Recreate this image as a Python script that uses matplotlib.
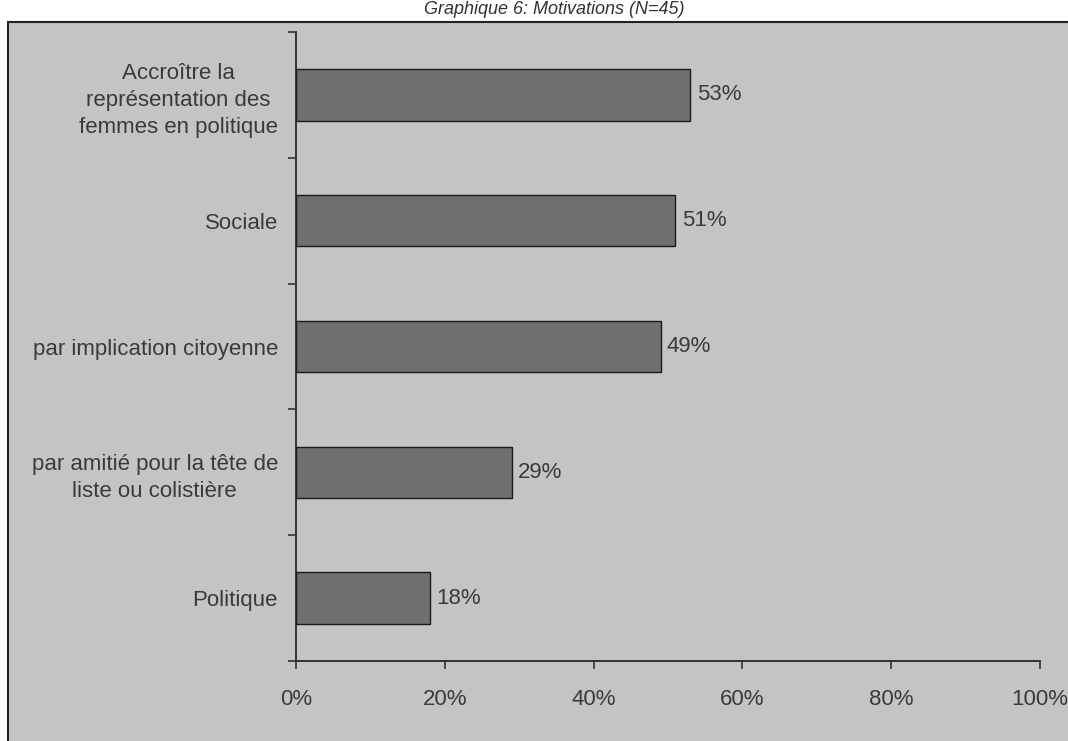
import matplotlib
matplotlib.use("Agg")
import matplotlib.pyplot as plt
from matplotlib.patches import Rectangle
import numpy as np

categories = [
    "Accroître la\nreprésentation des\nfemmes en politique",
    "Sociale",
    "par implication citoyenne",
    "par amitié pour la tête de\nliste ou colistière",
    "Politique",
]
values = [53, 51, 49, 29, 18]
xticks = [0, 20, 40, 60, 80, 100]
xtick_labels = ["0%", "20%", "40%", "60%", "80%", "100%"]
title = "Graphique 6: Motivations (N=45)"

W, H = 1068, 741
plt.rcParams["font.family"] = ["Liberation Sans", "DejaVu Sans"]
fig = plt.figure(figsize=(W / 100, H / 100), dpi=100)
fig.patch.set_facecolor("white")

bg = "#c4c4c4"
txt = "#3a3a3a"
fs = 16
# outer chart border
fig.patches.append(Rectangle((8 / W, -0.05), 1.2, 1 - 22 / H + 0.05,
                             transform=fig.transFigure, facecolor=bg,
                             edgecolor="#222222", linewidth=1.5, zorder=-5))

ax = fig.add_axes([296 / W, 1 - 661 / H, (1040 - 296) / W, (661 - 32) / H])
ax.set_facecolor("none")
ax.set_zorder(2)

n = len(categories)
ypos = np.arange(n)
ax.barh(ypos, values, height=0.41, color="#707070", edgecolor="#1a1a1a",
        linewidth=1.0, zorder=3)
ax.set_ylim(n - 0.5, -0.5)
ax.set_xlim(0, 100)

ax.set_yticks(ypos)
ax.set_yticklabels(categories, fontsize=fs, color=txt)
for lab in ax.get_yticklabels():
    lab.set_multialignment("center")
    lab.set_linespacing(1.38)
ax.tick_params(axis="y", which="major", length=0, pad=13)
ax.set_yticks(np.arange(-0.5, n, 1.0), minor=True)
ax.tick_params(axis="y", which="minor", length=6, width=1.2, color="#333333",
               direction="out")

ax.set_xticks(xticks)
ax.set_xticklabels(xtick_labels, fontsize=fs, color=txt)
ax.tick_params(axis="x", which="major", length=6, width=1.2, color="#333333",
               direction="out", pad=14)

for s in ["top", "right"]:
    ax.spines[s].set_visible(False)
for s in ["left", "bottom"]:
    ax.spines[s].set_color("#333333")
    ax.spines[s].set_linewidth(1.4)

for y, v in zip(ypos, values):
    ax.annotate(f"{v}%", xy=(v, y), xytext=(4.5, 0), textcoords="offset points",
                va="center", ha="left", fontsize=fs, color=txt)

fig.text(0.5 + 20 / W, 1 - 10 / H, title, ha="center", va="center",
         fontsize=13, style="italic", color="#333333")

fig.savefig("out.png", dpi=100)
